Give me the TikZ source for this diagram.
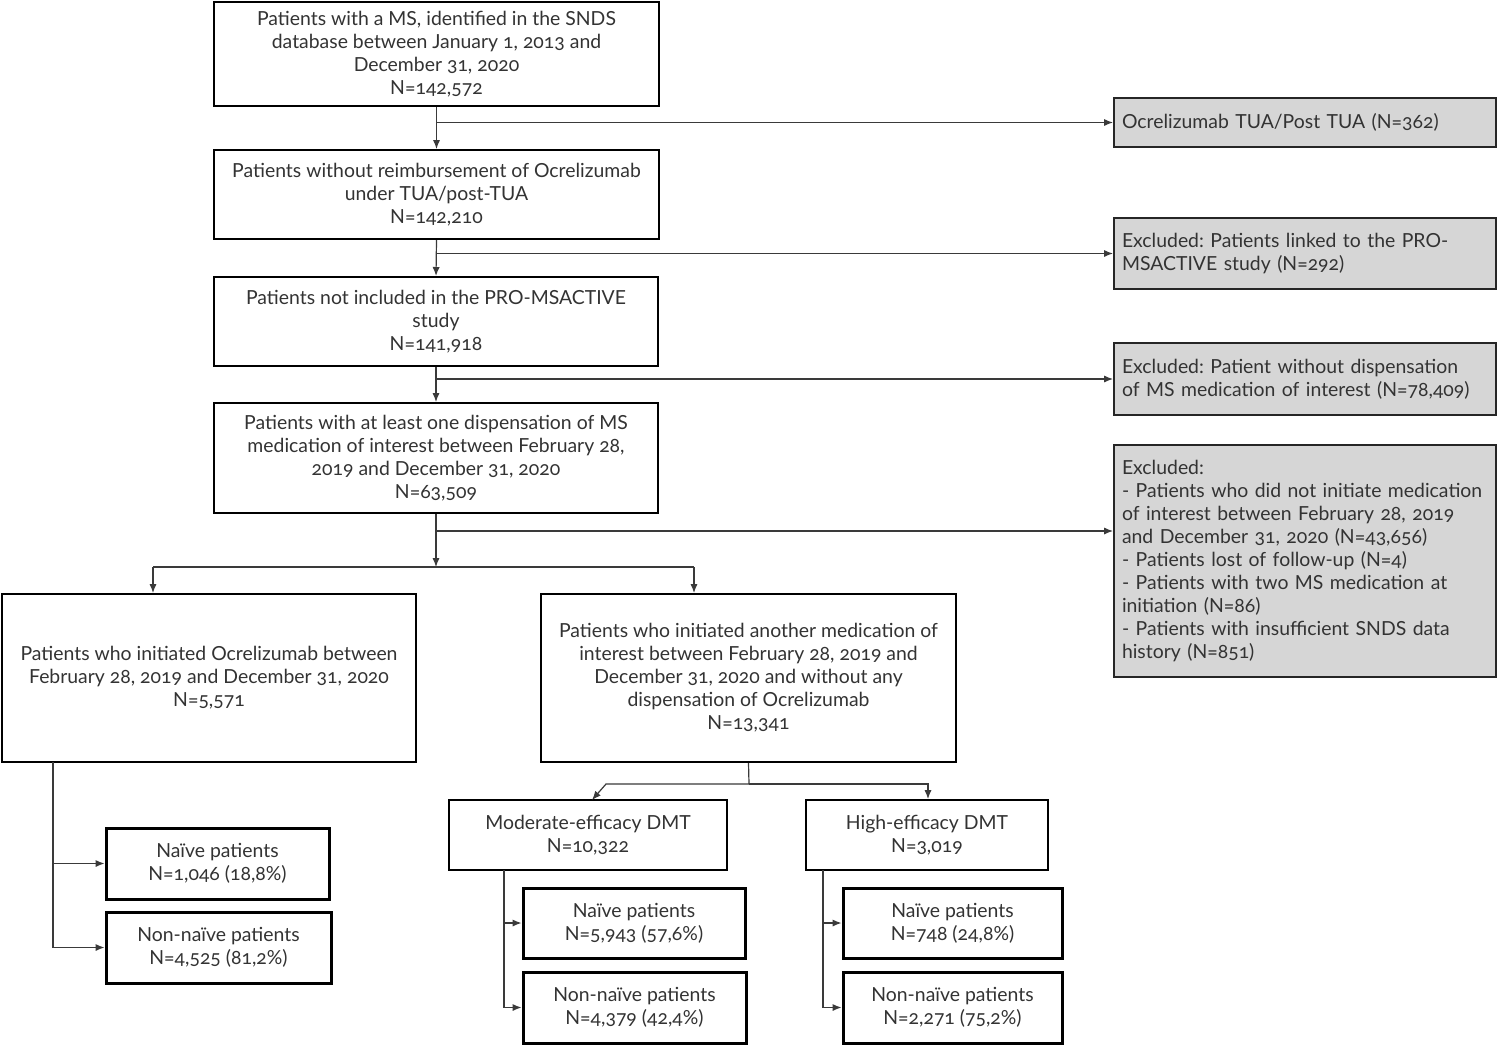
\documentclass[tikz,border=0pt]{standalone}
\usepackage{fontspec}
\setmainfont{Lato}[Numbers=OldStyle]
\frenchspacing
\usetikzlibrary{arrows.meta}
\definecolor{txt}{HTML}{333333}
\definecolor{exfill}{HTML}{D6D6D6}
\definecolor{lin}{HTML}{3A3A3A}
\begin{document}
\begin{tikzpicture}[x=0.5pt,y=-0.5pt,
  every node/.style={font=\fontsize{9.7pt}{11.5pt}\selectfont\frenchspacing, text=txt},
  box/.style={draw=black, line width=1pt, fill=white, align=center, inner sep=2pt},
  sub/.style={draw=black, line width=1.5pt, fill=white, align=center, inner sep=2pt},
  excl/.style={draw=black!85, line width=1pt, fill=exfill, align=left, inner xsep=4pt, inner ysep=2pt, text width=183pt},
  line/.style={draw=lin, line width=0.6pt},
  conn/.style={line, -{Latex[length=4.5pt,width=3.6pt]}}]
\useasboundingbox (0,0) rectangle (1498,1046);
\fill[white] (0,0) rectangle (1498,1046);
% main column
\node[box, minimum width=222.5pt, minimum height=52pt] (B1) at (436.5,54)
  {Patients with a MS, identified in the SNDS\\database between January 1, 2013 and\\December 31, 2020\\N=142,572};
\node[box, minimum width=222.5pt, minimum height=44.5pt] (B2) at (436.5,194.5)
  {Patients without reimbursement of Ocrelizumab\\under TUA/post-TUA\\N=142,210};
\node[box, minimum width=222pt, minimum height=44.5pt] (B3) at (436,321.5)
  {Patients not included in the PRO-MSACTIVE\\study\\N=141,918};
\node[box, minimum width=222pt, minimum height=55pt] (B4) at (436,458)
  {Patients with at least one dispensation of MS\\medication of interest between February 28,\\2019 and December 31, 2020\\N=63,509};
% exclusions
\node[excl, minimum height=24.5pt] (E1) at (1305,122.5) {Ocrelizumab TUA/Post TUA (N=362)};
\node[excl, minimum height=35.5pt] (E2) at (1305,253.5) {Excluded: Patients linked to the PRO-\\MSACTIVE study (N=292)};
\node[excl, minimum height=36pt] (E3) at (1305,379) {Excluded: Patient without dispensation\\of MS medication of interest (N=78,409)};
\node[excl, minimum height=116pt] (E4) at (1305,561) {Excluded:\\- Patients who did not initiate medication\\of interest between February 28, 2019\\and December 31, 2020 (N=43,656)\\- Patients lost of follow-up (N=4)\\- Patients with two MS medication at\\initiation (N=86)\\- Patients with insufficient SNDS data\\history (N=851)};
% level 2
\node[box, minimum width=207pt, minimum height=84pt] (L1) at (209,678)
  {Patients who initiated Ocrelizumab between\\February 28, 2019 and December 31, 2020\\N=5,571};
\node[box, minimum width=207.5pt, minimum height=84pt] (L2) at (748.5,678)
  {Patients who initiated another medication of\\interest between February 28, 2019 and\\December 31, 2020 and without any\\dispensation of Ocrelizumab\\N=13,341};
\node[box, minimum width=139pt, minimum height=35pt] (Mod) at (588,835) {Moderate-efficacy DMT\\N=10,322};
\node[box, minimum width=121pt, minimum height=35pt] (High) at (927,835) {High-efficacy DMT\\N=3,019};
% leaves
\node[sub, minimum width=111.5pt, minimum height=35.5pt] (N1) at (217.5,863.5) {Naïve patients\\N=1,046 (18,8\%)};
\node[sub, minimum width=112.5pt, minimum height=35.5pt] (NN1) at (218.5,947.5) {Non-naïve patients\\N=4,525 (81,2\%)};
\node[sub, minimum width=111pt, minimum height=35pt] (N2) at (634,923) {Naïve patients\\N=5,943 (57,6\%)};
\node[sub, minimum width=111.5pt, minimum height=35.5pt] (NN2) at (634.5,1007.5) {Non-naïve patients\\N=4,379 (42,4\%)};
\node[sub, minimum width=109.5pt, minimum height=35pt] (N3) at (952.5,923) {Naïve patients\\N=748 (24,8\%)};
\node[sub, minimum width=109.5pt, minimum height=35.5pt] (NN3) at (952.5,1007.5) {Non-naïve patients\\N=2,271 (75,2\%)};
% connectors main column
\draw[conn] (B1.south) -- (B2.north);
\draw[conn] (B1.south |- E1.west) -- (E1.west);
\draw[conn] (B2.south) -- (B3.north);
\draw[conn] (B2.south |- E2.west) -- (E2.west);
\draw[conn] (B3.south) -- (B4.north);
\draw[conn] (B3.south |- E3.west) -- (E3.west);
\coordinate (j4) at (436,531);
\coordinate (j5) at (436,567);
\draw[conn] (B4.south) -- (j5);
\draw[conn] (j4) -- (j4 -| E4.west);
\coordinate (hL) at (153,567);
\coordinate (hR) at (694,567);
\draw[line] (hL) -- (hR);
\draw[conn] (hL) -- (hL |- L1.north);
\draw[conn] (hR) -- (hR |- L2.north);
% L2 split
\coordinate (s2) at (749,784);
\coordinate (s2l) at (606,784);
\coordinate (m2) at (592,800);
\coordinate (s2r) at (928,784);
\draw[line] (L2.south) -- (s2);
\draw[conn] (s2) -- (s2l) -- (m2);
\draw[conn] (s2) -- (s2r) -- (s2r |- High.north);
% stems
\coordinate (t1) at (53,762);
\draw[line] (t1) -- (t1 |- NN1.west);
\draw[conn] (t1 |- N1.west) -- (N1.west);
\draw[conn] (t1 |- NN1.west) -- (NN1.west);
\coordinate (t2) at (504,870);
\draw[line] (t2) -- (t2 |- NN2.west);
\draw[conn] (t2 |- N2.west) -- (N2.west);
\draw[conn] (t2 |- NN2.west) -- (NN2.west);
\coordinate (t3) at (823,870);
\draw[line] (t3) -- (t3 |- NN3.west);
\draw[conn] (t3 |- N3.west) -- (N3.west);
\draw[conn] (t3 |- NN3.west) -- (NN3.west);
\end{tikzpicture}
\end{document}
